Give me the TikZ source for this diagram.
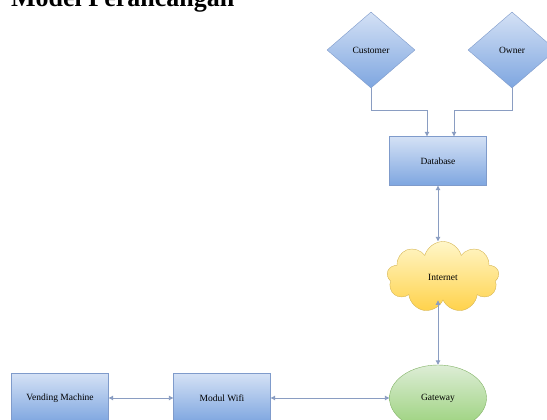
\documentclass[tikz,border=0pt]{standalone}
\usepackage{fontspec}
\setmainfont{Liberation Serif}
\usepackage{xcolor}
\usetikzlibrary{positioning,calc,shapes,arrows.meta}

\definecolor{boxtop}{HTML}{D4E1F5}
\definecolor{boxbot}{HTML}{7EA6E0}
\definecolor{boxline}{HTML}{7F9BCB}
\definecolor{cloudtop}{HTML}{FFF6C8}
\definecolor{cloudbot}{HTML}{FFD24A}
\definecolor{cloudline}{HTML}{D6B656}
\definecolor{gwtop}{HTML}{DDEDD6}
\definecolor{gwbot}{HTML}{97D077}
\definecolor{gwline}{HTML}{82B366}
\definecolor{linkcol}{HTML}{8A9DC2}

\begin{document}
\begin{tikzpicture}[x=1pt, y=-1pt,
		every node/.style={font=\fontsize{9.5}{11}\selectfont},
		blok/.style={rectangle, draw=boxline, top color=boxtop, bottom color=boxbot, minimum width=97pt, minimum height=49pt, inner sep=0pt},
		aktor/.style={diamond, draw=boxline, top color=boxtop, bottom color=boxbot, minimum width=88pt, minimum height=76pt, inner sep=0pt},
		link/.style={draw=linkcol, line width=0.9pt, -{Triangle[width=4.5pt,length=4.5pt]}},
		link2/.style={link, {Triangle[width=4.5pt,length=4.5pt]}-{Triangle[width=4.5pt,length=4.5pt]}}]
			\useasboundingbox (0,0) rectangle (547,420);
			% judul
			\node[anchor=base west, font=\fontsize{26}{30}\selectfont\bfseries, inner sep=0pt] (judul) at (11,7) {Model Perancangan};
			% pengguna
			\node[aktor] (cust) at (371,50) {Customer};
			\node[aktor] (owner) at (512,50) {Owner};
			\node[blok] (db) at (438,161) {Database};
			\node[cloud, cloud puffs=9, aspect=1.6, draw=cloudline, top color=cloudtop, bottom color=cloudbot, minimum width=112pt, minimum height=71pt, inner sep=0pt] (inet) at (443,277) {Internet};
			\node[ellipse, draw=gwline, top color=gwtop, bottom color=gwbot, minimum width=97pt, minimum height=66pt, inner sep=0pt] (gw) at (438,398) {Gateway};
			\node[blok] (wifi) at (222,398) {Modul Wifi};
			\node[blok] (vm) at (60,398) {Vending Machine};
			% koneksi
			\draw[link] (cust.south) -- ++(0,22) -| ([xshift=-11pt]db.north);
			\draw[link] (owner.south) -- ++(0,22) -| ([xshift=16pt]db.north);
			\draw[link2] (db.south) -- (db.south |- inet.north);
			\draw[link2] (gw.north |- inet.south) -- (gw.north);
			\draw[link2] (vm.east) -- (wifi.west);
			\draw[link2] (wifi.east) -- (gw.west);
		\end{tikzpicture}
\end{document}
